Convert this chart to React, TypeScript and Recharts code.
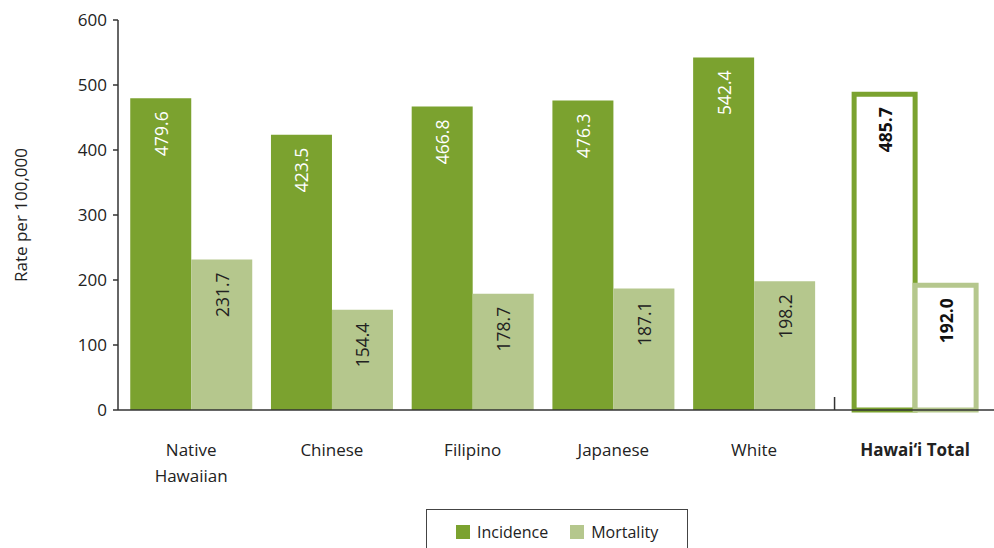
import { BarChart, Bar, XAxis, YAxis, Cell, LabelList, ReferenceLine } from "recharts";

const groups = ["Native Hawaiian", "Chinese", "Filipino", "Japanese", "White", "Hawai‘i Total"];
const incidence = [479.6, 423.5, 466.8, 476.3, 542.4, 485.7];
const mortality = [231.7, 154.4, 178.7, 187.1, 198.2, 192.0];
const yTicks = [0, 100, 200, 300, 400, 500, 600];

const GREEN = "#7ba22f";
const LIGHT = "#b5c78d";
const FONT = "'Open Sans', sans-serif";
const TOTAL_GAP = 0.144; // extra space before the total group

const data = groups.map((g, i) => ({
  group: g,
  pos: i + (i === groups.length - 1 ? TOTAL_GAP : 0),
  incidence: incidence[i],
  mortality: mortality[i],
}));
const tickPositions = data.map((d) => d.pos);
const breakPos = 4.5 + TOTAL_GAP / 2;
const lastIdx = groups.length - 1;

const GroupTick = (props: any) => {
  const { x, y, index } = props;
  const name = groups[index];
  const isTotal = index === lastIdx;
  const lines = name === "Native Hawaiian" ? ["Native", "Hawaiian"] : [name];
  return (
    <text x={x} y={y + 38} textAnchor="middle" fontSize={17} fill="#222" fontFamily={FONT} fontWeight={isTotal ? 700 : 400}>
      {lines.map((l, k) => (
        <tspan key={l} x={x} dy={k === 0 ? 0 : 26}>
          {l}
        </tspan>
      ))}
    </text>
  );
};

const makeLabel = (color: string) => (props: any) => {
  const { x, y, width, value, index } = props;
  const cx = x + width / 2;
  const ty = y + 13;
  const isTotal = index === lastIdx;
  return (
    <text
      x={cx}
      y={ty}
      transform={`rotate(-90 ${cx} ${ty})`}
      textAnchor="end"
      dominantBaseline="central"
      fontSize={17.5}
      fontFamily={FONT}
      fontWeight={isTotal ? 700 : 400}
      fill={isTotal ? "#111" : color}
    >
      {Number(value).toFixed(1)}
    </text>
  );
};

export default function App() {
  return (
    <div style={{ position: "absolute", left: 0, top: 0, width: 994, height: 548, background: "#fff", overflow: "hidden" }}>
      <BarChart
        width={994}
        height={548}
        data={data}
        margin={{ top: 20, right: 0, bottom: 58, left: 0 }}
        barCategoryGap="6.7%"
        barGap={0}
      >
        <XAxis
          dataKey="pos"
          type="number"
          domain={[-0.52, 5.705]}
          allowDataOverflow
          ticks={tickPositions}
          interval={0}
          tick={<GroupTick />}
          tickLine={false}
          axisLine={{ stroke: "#333", strokeWidth: 1.5 }}
          height={80}
        />
        <YAxis
          domain={[0, 600]}
          ticks={yTicks}
          width={118}
          tickSize={5}
          tickMargin={6}
          axisLine={{ stroke: "#333", strokeWidth: 1.5 }}
          tickLine={{ stroke: "#333", strokeWidth: 1.5 }}
          tick={{ fontSize: 17, fill: "#222", fontFamily: FONT }}
          label={{
            value: "Rate per 100,000",
            angle: -90,
            position: "insideLeft",
            dx: 16,
            style: { fontSize: 17, fill: "#222", fontFamily: FONT, textAnchor: "middle" },
          }}
        />
        <Bar dataKey="incidence" fill={GREEN} isAnimationActive={false}>
          {data.map((d, i) =>
            i === lastIdx ? (
              <Cell key={d.group} fill="#fff" stroke={GREEN} strokeWidth={5} />
            ) : (
              <Cell key={d.group} fill={GREEN} />
            )
          )}
          <LabelList dataKey="incidence" content={makeLabel("#fff")} />
        </Bar>
        <Bar dataKey="mortality" fill={LIGHT} isAnimationActive={false}>
          {data.map((d, i) =>
            i === lastIdx ? (
              <Cell key={d.group} fill="#fff" stroke={LIGHT} strokeWidth={5} />
            ) : (
              <Cell key={d.group} fill={LIGHT} />
            )
          )}
          <LabelList dataKey="mortality" content={makeLabel("#222")} />
        </Bar>
        <ReferenceLine
          segment={[
            { x: breakPos, y: 0 },
            { x: breakPos, y: 20 },
          ]}
          stroke="#333"
          strokeWidth={1.5}
        />
      </BarChart>
      <div
        style={{
          position: "absolute",
          left: 426,
          top: 509,
          width: 262,
          height: 60,
          border: "1.5px solid #444",
          fontFamily: FONT,
          fontSize: 16,
          color: "#222",
          display: "flex",
          alignItems: "flex-start",
          paddingTop: 11,
          boxSizing: "border-box",
          paddingLeft: 29,
        }}
      >
        <span style={{ width: 14, height: 14, background: GREEN, marginTop: 4, marginRight: 7 }} />
        <span style={{ marginRight: 22 }}>Incidence</span>
        <span style={{ width: 14, height: 14, background: LIGHT, marginTop: 4, marginRight: 7 }} />
        <span>Mortality</span>
      </div>
    </div>
  );
}
